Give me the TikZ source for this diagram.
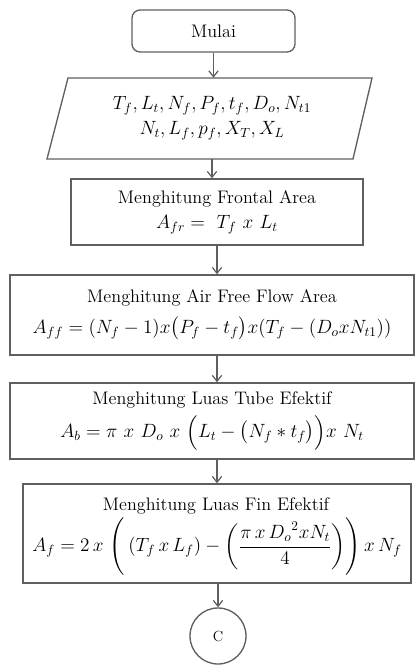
\documentclass[tikz,border=0pt]{standalone}
\usepackage{amsmath}
\usetikzlibrary{arrows.meta,calc}
\definecolor{lc}{RGB}{95,95,95}
\newcommand{\fmx}[1]{{\fontsize{14.5}{19}\selectfont$#1$}}
\begin{document}
\begin{tikzpicture}[x=0.75pt,y=-0.75pt,
  line/.style={draw=lc, line width=1pt},
  txt/.style={align=center, inner sep=0pt, font=\fontsize{13.6}{19}\selectfont},
  proc/.style={line, rectangle, txt},
  arr/.style={draw=lc, line width=0.9pt, -{Straight Barb[length=4.5pt,width=7pt]}}]
\useasboundingbox (0,0) rectangle (415,665);
% start
\node[proc, rounded corners=6pt, minimum width=122.25pt, minimum height=31.5pt] (start) at (213.5,31) {Mulai};
% input parallelogram
\draw[line] (68,78) -- (372,78) -- (353,159) -- (47,159) -- cycle;
\node[txt, minimum height=60.75pt, minimum width=1pt] (in) at (212,118.5)
  {\fmx{T_f, L_t, N_f, P_f, t_f, D_o, N_{t1}}\\ \fmx{N_t, L_f, p_f, X_T, X_L}};
% frontal area
\node[proc, minimum width=219pt, minimum height=49.5pt] (fr) at (217,212)
  {Menghitung Frontal Area\\ \fmx{A_{fr} =\ T_f\ x\ L_t}};
% air free flow
\node[proc, minimum width=303pt, minimum height=60pt] (air) at (212,315)
  {Menghitung Air Free Flow Area\\[4pt] \fmx{A_{ff} = (N_f - 1)x\bigl(P_f - t_f\bigr)x(T_f - (D_o x N_{t1}))}};
% tube
\node[proc, minimum width=303pt, minimum height=57pt] (tube) at (212,421)
  {Menghitung Luas Tube Efektif\\[4pt] \fmx{A_b = \pi\ x\ D_o\ x\ \Bigl(L_t - \bigl(N_f * t_f\bigr)\Bigr)x\ N_t}};
% fin
\node[proc, minimum width=291pt, minimum height=74.25pt] (fin) at (217,533.5) {};
\node[txt] (fint) at (216,506) {Menghitung Luas Fin Efektif};
\node[txt] (finf) at (217,547)
  {\fmx{A_f = 2\,x\,\left(\rule[-16pt]{0pt}{40pt}\left(T_f\,x\,L_f\right) - \left(\dfrac{\pi\,x\,{D_o}^2 x N_t}{4}\right)\right) x\,N_f}};
% connector
\node[line, circle, minimum size=42pt, inner sep=0pt, font=\fontsize{11}{13}\selectfont] (c) at (218,636) {C};
% arrows
\draw[arr] (start.south) -- (start.south |- in.north);
\draw[arr] (in.south) -- (in.south |- fr.north);
\draw[arr] (fr.south) -- (fr.south |- air.north);
\draw[arr] (air.south -| fin.north) -- (tube.north -| fin.north);
\draw[arr] (tube.south -| fin.north) -- (fin.north);
\draw[arr] (fin.south -| c.north) -- (c.north);
\end{tikzpicture}
\end{document}
